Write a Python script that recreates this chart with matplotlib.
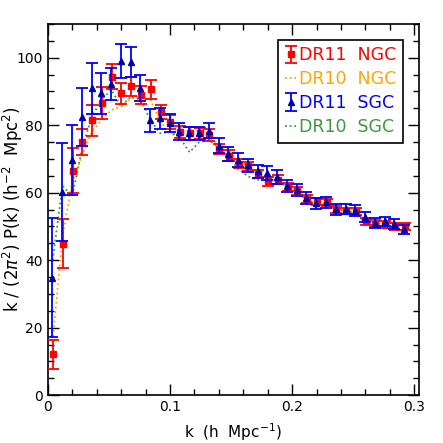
import numpy as np
import matplotlib
matplotlib.use("Agg")
import matplotlib.pyplot as plt
from matplotlib.ticker import MultipleLocator, FuncFormatter

# k bins (h/Mpc)
k = [0.004, 0.012, 0.020, 0.028, 0.036, 0.044, 0.052, 0.060, 0.068, 0.076,
     0.084, 0.092, 0.100, 0.108, 0.116, 0.124, 0.132, 0.140, 0.148, 0.156,
     0.164, 0.172, 0.180, 0.188, 0.196, 0.204, 0.212, 0.220, 0.228, 0.236,
     0.244, 0.252, 0.260, 0.268, 0.276, 0.284, 0.292]

dr11_ngc = [12.1, 44.9, 66.5, 75.1, 81.5, 86.6, 94.4, 89.4, 91.5, 88.9,
            90.6, 84.0, 81.0, 78.1, 77.6, 77.6, 77.0, 72.9, 71.0, 68.6,
            67.8, 65.5, 63.4, 63.9, 61.8, 60.5, 58.1, 57.3, 57.1, 55.0,
            54.6, 54.4, 51.5, 50.8, 50.5, 50.0, 50.0]
dr11_ngc_err = [4.3, 7.3, 6.6, 3.8, 4.6, 4.7, 3.7, 3.2, 2.9, 2.6,
                2.7, 2.1, 2.0, 1.8, 1.9, 1.7, 1.8, 1.5, 1.5, 1.4,
                1.4, 1.3, 1.3, 1.3, 1.2, 1.2, 1.2, 1.1, 1.1, 1.1,
                1.0, 1.0, 1.0, 1.0, 1.0, 1.0, 1.0]

dr11_sgc = [34.8, 60.2, 69.7, 82.5, 90.9, 89.4, 92.2, 99.0, 98.8, 91.1,
            81.4, 82.1, 80.6, 78.1, 77.6, 77.6, 78.3, 73.9, 71.5, 69.7,
            68.1, 66.3, 65.9, 64.6, 62.0, 60.9, 58.4, 56.8, 57.1, 55.1,
            55.2, 54.7, 52.7, 51.0, 51.5, 50.7, 49.1]
dr11_sgc_err = [17.7, 14.6, 10.4, 8.6, 7.6, 6.0, 4.8, 5.0, 4.5, 3.8,
                3.4, 3.1, 2.6, 2.5, 1.9, 2.0, 2.2, 2.2, 2.0, 2.0,
                2.0, 2.0, 2.0, 2.0, 1.8, 1.8, 1.7, 1.7, 1.6, 1.6,
                1.5, 1.5, 1.5, 1.4, 1.4, 1.4, 1.4]

dr10_ngc = [16.0, 47.0, 63.0, 71.0, 78.0, 81.5, 84.5, 85.5, 88.0, 88.4,
            87.5, 81.0, 77.6, 76.5, 75.2, 77.0, 76.5, 74.0, 72.5, 69.5,
            67.6, 65.5, 64.0, 63.5, 61.8, 60.5, 58.5, 57.2, 56.8, 55.0,
            54.8, 54.2, 52.0, 51.0, 50.6, 50.2, 49.8]

dr10_sgc = [40.0, 62.0, 59.0, 73.0, 82.5, 87.5, 90.5, 85.5, 88.5, 87.5,
            81.5, 77.6, 78.0, 76.3, 72.0, 75.0, 75.5, 73.5, 70.5, 67.0,
            64.8, 63.8, 64.8, 64.0, 61.5, 60.0, 58.0, 56.5, 56.8, 55.0,
            54.5, 54.0, 51.0, 50.3, 50.0, 49.2, 48.7]

labels = ["DR11  NGC", "DR10  NGC", "DR11  SGC", "DR10  SGC"]
colors = ["#ff0000", "#ffa500", "#0000ff", "#3a9a3a"]

plt.rcParams['font.family'] = ['DejaVu Sans']
fig = plt.figure(figsize=(4.43, 4.43), dpi=100)
ax = fig.add_axes([0.108, 0.108, 0.838, 0.838])

h_on, = ax.plot(k, dr10_ngc, linestyle=(0, (1, 1.6)), color=colors[1], lw=1.3, zorder=2)
h_os, = ax.plot(k, dr10_sgc, linestyle=(0, (1, 1.6)), color=colors[3], lw=1.3, zorder=2)

k_arr = np.array(k)
h_rn = ax.errorbar(k_arr + 0.0003, dr11_ngc, yerr=dr11_ngc_err, fmt='s', color=colors[0],
                   ms=4.5, capsize=4, elinewidth=1.3, capthick=1.3, zorder=3)
h_bs = ax.errorbar(k_arr - 0.0002, dr11_sgc, yerr=dr11_sgc_err, fmt='^', color=colors[2],
                   mfc='#0000aa', mec='#0000aa', ms=5, capsize=4, elinewidth=1.3,
                   capthick=1.3, zorder=4)

ax.set_xlim(0, 0.304)
ax.set_ylim(0, 110)
ax.xaxis.set_major_locator(MultipleLocator(0.1))
ax.xaxis.set_minor_locator(MultipleLocator(0.02))
ax.yaxis.set_major_locator(MultipleLocator(20))
ax.yaxis.set_minor_locator(MultipleLocator(5))
ax.tick_params(which='both', direction='in', top=True, right=True, labelsize=10)
ax.tick_params(which='major', length=8, width=1)
ax.tick_params(which='minor', length=4, width=1)
ax.xaxis.set_major_formatter(FuncFormatter(lambda v, p: f"{v:g}"))
for s in ax.spines.values():
    s.set_linewidth(1.2)

ax.set_xlabel(r"k  (h  Mpc$^{-1}$)", fontsize=11, labelpad=5)
ax.set_ylabel(r"k / (2$\pi^2$) P(k) (h$^{-2}$  Mpc$^2$)", fontsize=12)
ax.yaxis.set_label_coords(-0.062, 0.5)

leg = ax.legend([h_rn, h_on, h_bs, h_os], labels, loc='upper right', fontsize=12.5,
                handlelength=0.6, handletextpad=0.2, labelspacing=0.33,
                borderaxespad=0.9, borderpad=0.4, fancybox=False, framealpha=1,
                edgecolor='black')
leg.get_frame().set_linewidth(1.2)
for t, c in zip(leg.get_texts(), colors):
    t.set_color(c)

fig.savefig("out.png", dpi=100)
